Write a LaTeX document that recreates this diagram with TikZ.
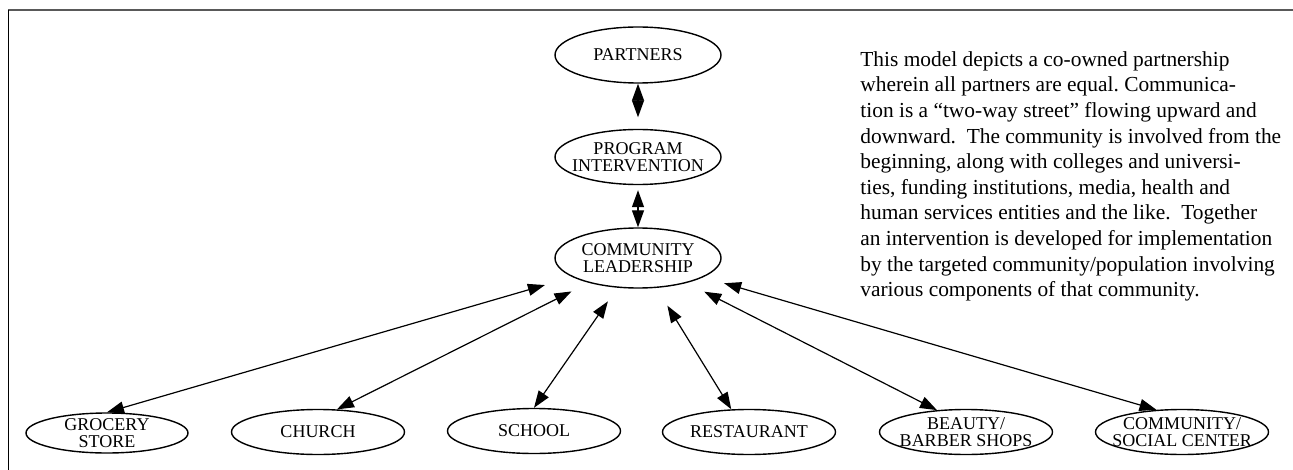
\documentclass[tikz,border=0pt]{standalone}
\usepackage{fontspec}
\setmainfont{Liberation Serif}
\usetikzlibrary{shapes.geometric,arrows.meta}
\tikzset{
  oval/.style={draw, ellipse, line width=.7pt, inner xsep=-30pt, inner ysep=-4pt,
    minimum width=83pt, minimum height=28pt, align=center,
    font=\fontsize{9}{8.4}\selectfont},
  small oval/.style={oval, minimum width=86.5pt, minimum height=22.5pt},
  twoway/.style={<->, >={Triangle[length=8.5pt,width=6pt]}, line width=.6pt},
}
\begin{document}
\begin{tikzpicture}[x=.5pt,y=-.5pt]
\useasboundingbox (0,0) rectangle (1293,470);
% frame
\draw [line width=1pt, black!65] (8,10) -- (1293,10);
\draw [line width=.5pt] (8,10) -- (8,470);
% top column
\node [oval] (partners) at (638,55) {PARTNERS};
\node [oval, minimum height=27.5pt] (program) at (638,157) {PROGRAM\\INTERVENTION};
\node [oval, minimum height=30pt] (leadership) at (638,258) {COMMUNITY\\LEADERSHIP};
% community components
\node [small oval, minimum width=81pt, minimum height=20pt] (grocery) at (107,433) {GROCERY\\STORE};
\node [small oval] (church) at (318,432) {CHURCH};
\node [small oval] (school) at (534,431) {SCHOOL};
\node [small oval] (restaurant) at (749,432) {RESTAURANT};
\node [small oval] (beauty) at (966,432) {BEAUTY/\\BARBER SHOPS};
\node [small oval] (social) at (1182,432) {COMMUNITY/\\SOCIAL CENTER};
% two-way links
\draw [twoway, shorten >=5.75pt] (partners) -- (program);
\draw [twoway, shorten <=2.5pt] (program) -- (leadership);
\foreach \from/\gap in {grocery.north/14.3pt, church.50/9.6pt, school.north/8.3pt,
  restaurant.128/10.4pt, beauty.143/9.7pt, social.139/10.8pt}
  \draw [twoway, shorten >=\gap] (\from) -- (leadership);
% description
\node [anchor=north west, align=left, inner sep=0pt,
  font=\fontsize{10.7}{12.8}\selectfont\frenchspacing] (note) at (860,51)
  {This model depicts a co-owned partnership\\
   wherein all partners are equal. Communica-\\
   tion is a “two-way street” flowing upward and\\
   downward.\ \ The community is involved from the\\
   beginning, along with colleges and universi-\\
   ties, funding institutions, media, health and\\
   human services entities and the like.\ \ Together\\
   an intervention is developed for implementation\\
   by the targeted community/population involving\\
   various components of that community.};
\end{tikzpicture}
\end{document}
